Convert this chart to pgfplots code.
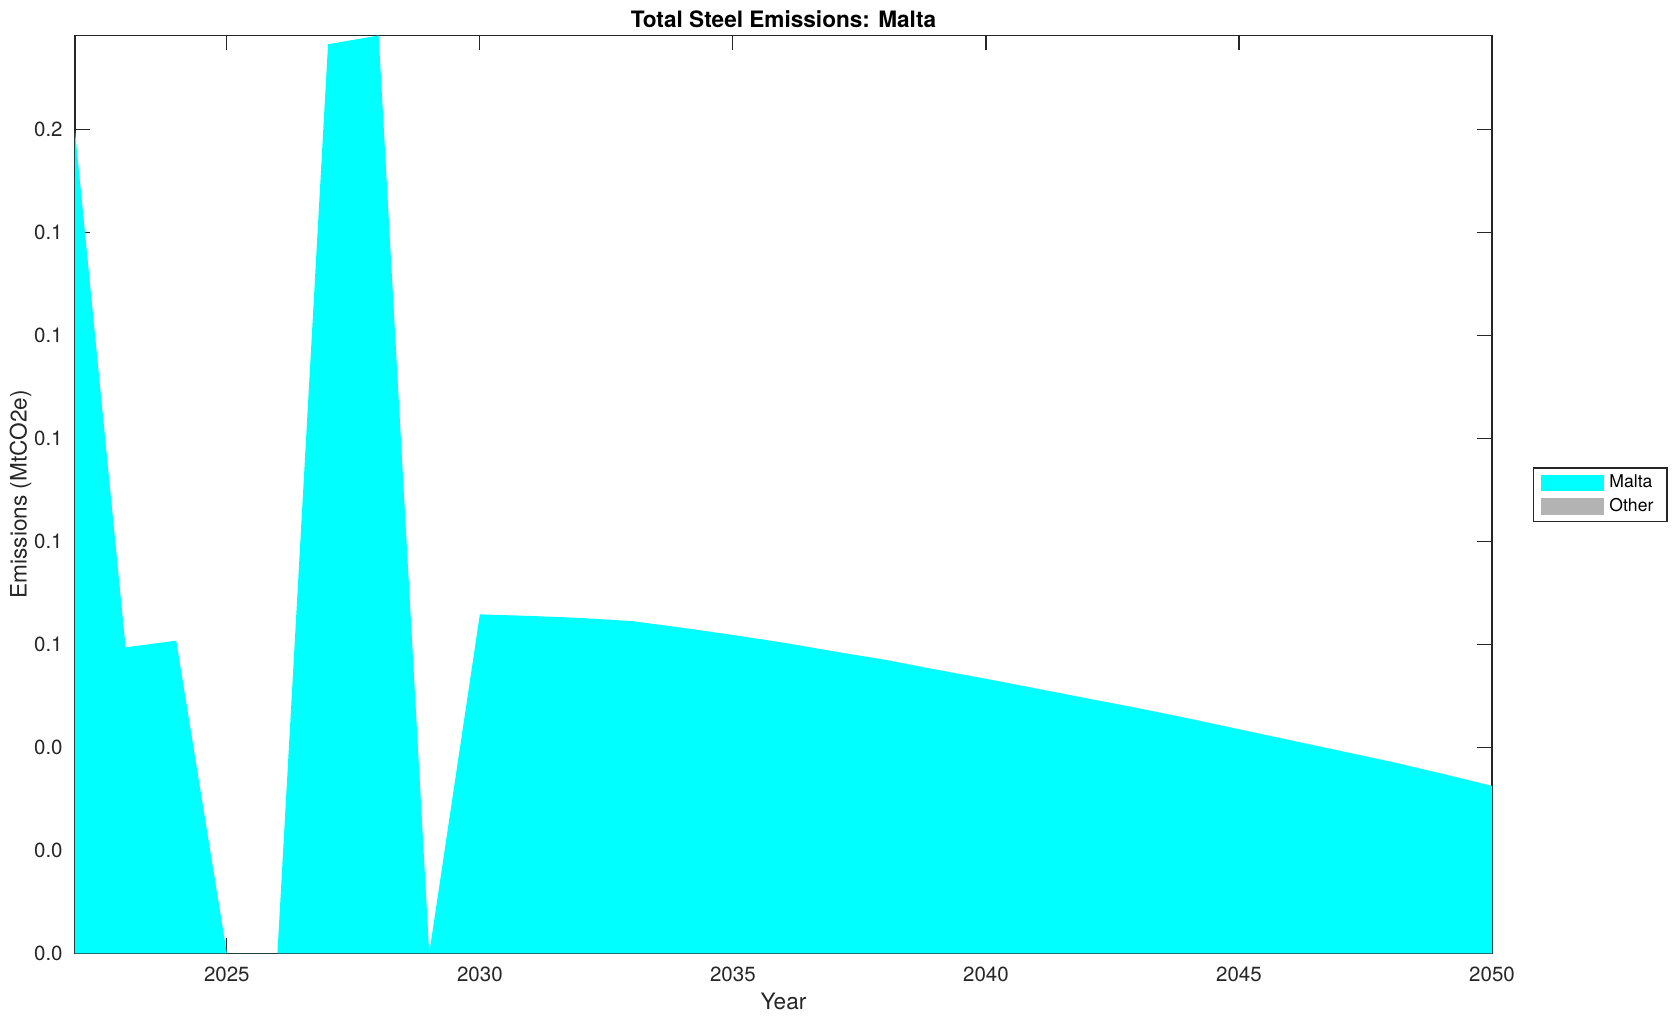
\documentclass[border=0pt]{standalone}
\usepackage{pgfplots}
\pgfplotsset{compat=1.18}
\usepackage{fontspec}
\setmainfont{TeX Gyre Heros}
\definecolor{axgray}{RGB}{38,38,38}
\definecolor{malta}{RGB}{0,255,255}
\definecolor{othergray}{RGB}{179,179,179}
\begin{document}
\begin{tikzpicture}
\path[use as bounding box] (0,0) rectangle (838.5pt,510.5pt);
\begin{axis}[
  at={(37.5pt,33.85pt)}, anchor=south west,
  scale only axis, width=708.5pt, height=458.9pt,
  xmin=2022, xmax=2050, ymin=0, ymax=0.1782,
  xtick={2025,2030,2035,2040,2045,2050},
  xticklabels={2025,2030,2035,2040,2045,2050},
  ytick={0,0.02,0.04,0.06,0.08,0.10,0.12,0.14,0.16},
  yticklabels={0.0,0.0,0.0,0.1,0.1,0.1,0.1,0.1,0.2},
  /pgf/number format/assume math mode=true,
  tick align=inside, tick pos=both, major tick length=7.5pt,
  axis line style={axgray, line width=0.6pt},
  every tick/.style={axgray, line width=0.6pt},
  tick label style={font=\fontsize{10.25}{12}\selectfont, text=axgray},
  xticklabel style={anchor=north, inner sep=0pt, yshift=-6.7pt},
  yticklabel style={anchor=east, inner sep=0pt, xshift=-6pt},
  title={Total Steel Emissions: Malta},
  every axis title shift=0pt,
  title style={font=\bfseries\fontsize{11.3}{13}\selectfont, at={(axis description cs:0.5,1)}, anchor=base, yshift=4.1pt, inner sep=0pt},
  xlabel={Year},
  ylabel={Emissions (MtCO2e)},
  xlabel style={font=\fontsize{11.3}{13}\selectfont, text=axgray, at={(axis description cs:0.5,0)}, anchor=base, yshift=-28.35pt, inner sep=0pt},
  ylabel style={font=\fontsize{11.3}{13}\selectfont, text=axgray, at={([xshift=-24.15pt]axis description cs:0,0.5)}, anchor=base, inner sep=0pt},
  legend style={at={(1.0287,0.5295)}, anchor=north west, draw=axgray, line width=0.6pt, fill=white,
    font=\fontsize{8.8}{10.5}\selectfont, inner xsep=4pt, inner ysep=3.5pt, row sep=3.5pt,
    nodes={inner ysep=0pt, inner xsep=2.8pt, text height=6.4pt, text depth=1.6pt}},
  legend cell align=left,
  legend image code/.code={\fill[#1] (0pt,-4.1pt) rectangle (31.3pt,4.1pt);},
]
\addplot[fill=malta, draw=none] coordinates {
(2022,0.1597) (2023,0.0594) (2024,0.0607) (2025,0) (2026,0) (2027,0.1765)
(2028,0.1782) (2029,0) (2030,0.0658) (2031,0.0655) (2032,0.0651) (2033,0.0645)
(2034,0.0632) (2035,0.0618) (2036,0.0603) (2037,0.0586) (2038,0.0570) (2039,0.0551)
(2040,0.0533) (2041,0.0514) (2042,0.0495) (2043,0.0476) (2044,0.0456) (2045,0.0435)
(2046,0.0414) (2047,0.0393) (2048,0.0372) (2049,0.0349) (2050,0.0325)
} \closedcycle;
\addlegendentry{Malta}
\addlegendimage{fill=othergray, draw=none}
\addlegendentry{Other}
\end{axis}
\end{tikzpicture}
\end{document}
